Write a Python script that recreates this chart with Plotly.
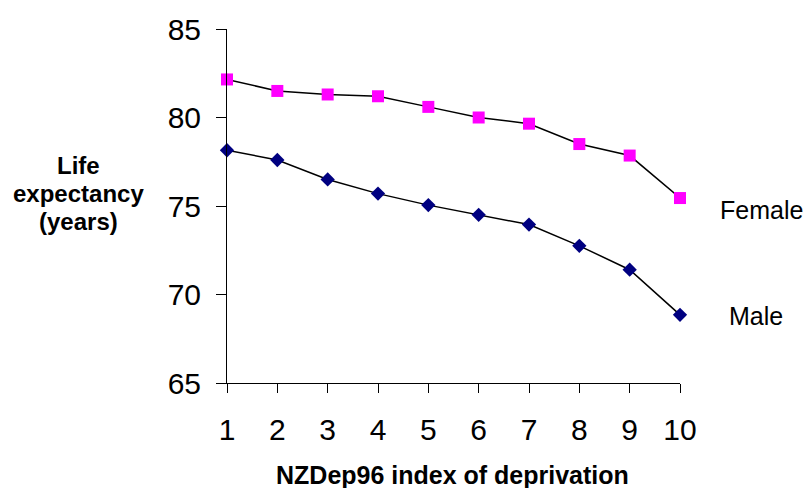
import plotly.graph_objects as go

deprivation = [1, 2, 3, 4, 5, 6, 7, 8, 9, 10]
female = [82.15, 81.5, 81.3, 81.2, 80.6, 80.0, 79.65, 78.5, 77.85, 75.45]
male = [78.15, 77.6, 76.5, 75.7, 75.05, 74.5, 73.95, 72.75, 71.4, 68.85]
y_ticks = [65, 70, 75, 80, 85]
y_title_lines = ["Life", "expectancy", "(years)"]

FONT = "Arial, Liberation Sans, Helvetica, sans-serif"

fig = go.Figure()
fig.add_trace(go.Scatter(
    x=deprivation, y=female, mode="lines+markers", name="Female",
    line=dict(color="black", width=1.5),
    marker=dict(symbol="square", size=12, color="#FF00FF"),
    cliponaxis=False,
))
fig.add_trace(go.Scatter(
    x=deprivation, y=male, mode="lines+markers", name="Male",
    line=dict(color="black", width=1.5),
    marker=dict(symbol="diamond", size=11, color="#000080"),
    cliponaxis=False,
))

annotations = []
for txt, yp in zip(y_title_lines, [0.614, 0.535, 0.456]):
    annotations.append(dict(text="<b>" + txt + "</b>", xref="paper", yref="paper",
                            x=-0.328, y=yp, showarrow=False,
                            xanchor="center", yanchor="middle",
                            font=dict(size=24, family=FONT, color="black")))
annotations += [
    dict(text="<b>NZDep96 index of deprivation</b>", xref="paper", yref="paper",
         x=0.497, y=-0.259, showarrow=False, xanchor="center", yanchor="middle",
         font=dict(size=25, family=FONT, color="black")),
    dict(text="Female", xref="paper", yref="paper", x=1.181, y=0.489,
         showarrow=False, xanchor="center", yanchor="middle",
         font=dict(size=25, family=FONT, color="black")),
    dict(text="Male", xref="paper", yref="paper", x=1.168, y=0.189,
         showarrow=False, xanchor="center", yanchor="middle",
         font=dict(size=25, family=FONT, color="black")),
]

fig.update_layout(
    width=808, height=488,
    margin=dict(l=227, r=128, t=25, b=105),
    paper_bgcolor="white", plot_bgcolor="white",
    showlegend=False,
    font=dict(family=FONT, color="black"),
    xaxis=dict(
        range=[1, 10], tickmode="array", tickvals=deprivation,
        showgrid=False, zeroline=False, showline=True, linecolor="black", linewidth=1,
        ticks="outside", ticklen=9, tickcolor="black",
        tickfont=dict(size=30, family=FONT, color="black"),
        ticklabelstandoff=11,
    ),
    yaxis=dict(
        range=[65, 85], tickmode="array", tickvals=y_ticks,
        showgrid=False, zeroline=False, showline=True, linecolor="black", linewidth=1,
        ticks="outside", ticklen=10, tickcolor="black",
        tickfont=dict(size=30, family=FONT, color="black"),
        ticklabelstandoff=9,
    ),
    annotations=annotations,
)

fig.write_html("out.html")
